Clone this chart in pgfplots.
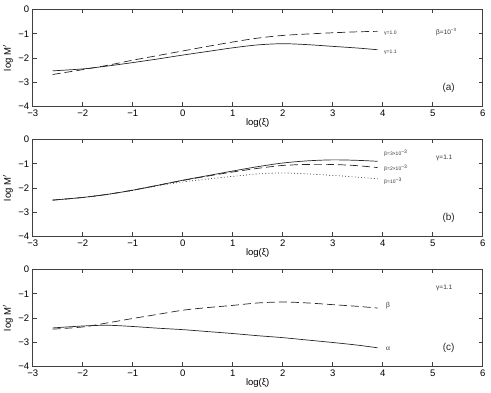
\documentclass[border=0pt]{standalone}
\usepackage{fontspec}
\setmainfont{Liberation Sans}
\newfontfamily\serifgr{Liberation Serif}
\usepackage{pgfplots}
\pgfplotsset{compat=1.18}

\pgfplotsset{
  panel/.style={
    scale only axis, width=450pt, height=97pt,
    xmin=-3, xmax=6, ymin=-4, ymax=0,
    xtick={-3,...,6}, ytick={-4,...,0},
    xticklabels={−3,−2,−1,0,1,2,3,4,5,6},
    yticklabels={−4,−3,−2,−1,0},
    tick align=inside, major tick length=4pt,
    axis line style={black!75, line width=0.6pt},
    every tick/.style={black!75, line width=0.5pt},
    xlabel={log(ξ)}, ylabel={log M$'$},
    xlabel style={at={(axis description cs:0.5,-0.17)}, anchor=center},
    ylabel style={at={(axis description cs:-0.055,0.5)}, anchor=center},
    tick label style={font=\fontsize{9.5}{10}\selectfont},
    label style={font=\fontsize{9.5}{10}\selectfont},
    every axis plot/.append style={black!85, line width=0.7pt, smooth, tension=0.5, no marks},
  },
}
\tikzset{
  sld/.style={solid},
  dsh/.style={dash pattern=on 8pt off 4pt},
  dtt/.style={dash pattern=on 0.8pt off 2.4pt},
  lbltiny/.style={font=\fontsize{5}{6}\selectfont, anchor=west, black!80},
  lblsmall/.style={font=\fontsize{6.5}{7}\selectfont, anchor=west, black!80},
  lblgreek/.style={font=\serifgr\fontsize{7.5}{8}\selectfont, anchor=west, black!80},
  lbltag/.style={font=\fontsize{10}{11}\selectfont, black!85},
}

\begin{document}
\begin{tikzpicture}
\useasboundingbox (-32.7pt,9.5pt) rectangle (458.3pt,-383.5pt);

% (a)
\begin{axis}[panel, at={(0,0)}, anchor=north west]
\addplot[dsh] coordinates {
  (-2.6,-2.68) (-2.0,-2.48) (-1.5,-2.30) (-1.0,-2.09) (-0.5,-1.90) (0.0,-1.71)
  (0.5,-1.52) (1.0,-1.34) (1.5,-1.18) (2.0,-1.07) (2.5,-1.01) (3.0,-0.96)
  (3.5,-0.92) (3.9,-0.90)
};
\addplot[sld] coordinates {
  (-2.6,-2.53) (-2.0,-2.45) (-1.5,-2.33) (-1.0,-2.19) (-0.5,-2.04) (0.0,-1.88)
  (0.5,-1.73) (1.0,-1.58) (1.5,-1.46) (2.0,-1.41) (2.5,-1.45) (3.0,-1.52)
  (3.5,-1.59) (3.9,-1.66)
};
\node[lbltiny] at (axis cs:3.96,-0.96) {γ=1.0};
\node[lbltiny] at (axis cs:3.96,-1.75) {γ=1.1};
\node[lblsmall] at (axis cs:5.0,-0.93) {β=10\textsuperscript{−3}};
\node[lbltag] at (axis cs:5.32,-3.25) {(a)};
\end{axis}

% (b)
\begin{axis}[panel, at={(0,-130pt)}, anchor=north west]
\addplot[sld] coordinates {
  (-2.6,-2.50) (-2.0,-2.39) (-1.5,-2.26) (-1.0,-2.09) (-0.5,-1.89) (0.0,-1.68)
  (0.5,-1.49) (1.0,-1.30) (1.5,-1.12) (2.0,-0.97) (2.5,-0.88) (3.0,-0.84)
  (3.5,-0.86) (3.9,-0.90)
};
\addplot[dsh] coordinates {
  (-2.6,-2.50) (-2.0,-2.39) (-1.5,-2.26) (-1.0,-2.09) (-0.5,-1.89) (0.0,-1.69)
  (0.5,-1.51) (1.0,-1.34) (1.5,-1.19) (2.0,-1.07) (2.5,-1.03) (3.0,-1.03)
  (3.5,-1.08) (3.9,-1.16)
};
\addplot[dtt] coordinates {
  (-2.6,-2.50) (-2.0,-2.39) (-1.5,-2.26) (-1.0,-2.10) (-0.5,-1.91) (0.0,-1.75)
  (0.5,-1.63) (1.0,-1.52) (1.5,-1.42) (2.0,-1.38) (2.5,-1.42) (3.0,-1.48)
  (3.5,-1.55) (3.9,-1.62)
};
\node[lbltiny] at (axis cs:3.96,-0.55) {β=3×10\textsuperscript{−3}};
\node[lbltiny] at (axis cs:3.96,-1.18) {β=2×10\textsuperscript{−3}};
\node[lbltiny] at (axis cs:3.96,-1.72) {β=10\textsuperscript{−3}};
\node[lblsmall] at (axis cs:5.0,-0.77) {γ=1.1};
\node[lbltag] at (axis cs:5.32,-3.25) {(b)};
\end{axis}

% (c)
\begin{axis}[panel, at={(0,-260pt)}, anchor=north west]
\addplot[dsh] coordinates {
  (-2.6,-2.46) (-2.0,-2.37) (-1.5,-2.20) (-1.0,-2.02) (-0.5,-1.85) (0.0,-1.68)
  (0.5,-1.57) (1.0,-1.48) (1.5,-1.38) (2.0,-1.34) (2.5,-1.38) (3.0,-1.45)
  (3.5,-1.52) (3.9,-1.59)
};
\addplot[sld] coordinates {
  (-2.6,-2.41) (-2.0,-2.33) (-1.5,-2.30) (-1.0,-2.35) (-0.5,-2.42) (0.0,-2.48)
  (0.5,-2.56) (1.0,-2.64) (1.5,-2.73) (2.0,-2.81) (2.5,-2.91) (3.0,-3.01)
  (3.5,-3.12) (3.9,-3.23)
};
\node[lblgreek] at (axis cs:4.0,-1.48) {β};
\node[lblgreek] at (axis cs:4.0,-3.25) {α};
\node[lblsmall] at (axis cs:5.0,-0.77) {γ=1.1};
\node[lbltag] at (axis cs:5.32,-3.25) {(c)};
\end{axis}
\end{tikzpicture}
\end{document}
